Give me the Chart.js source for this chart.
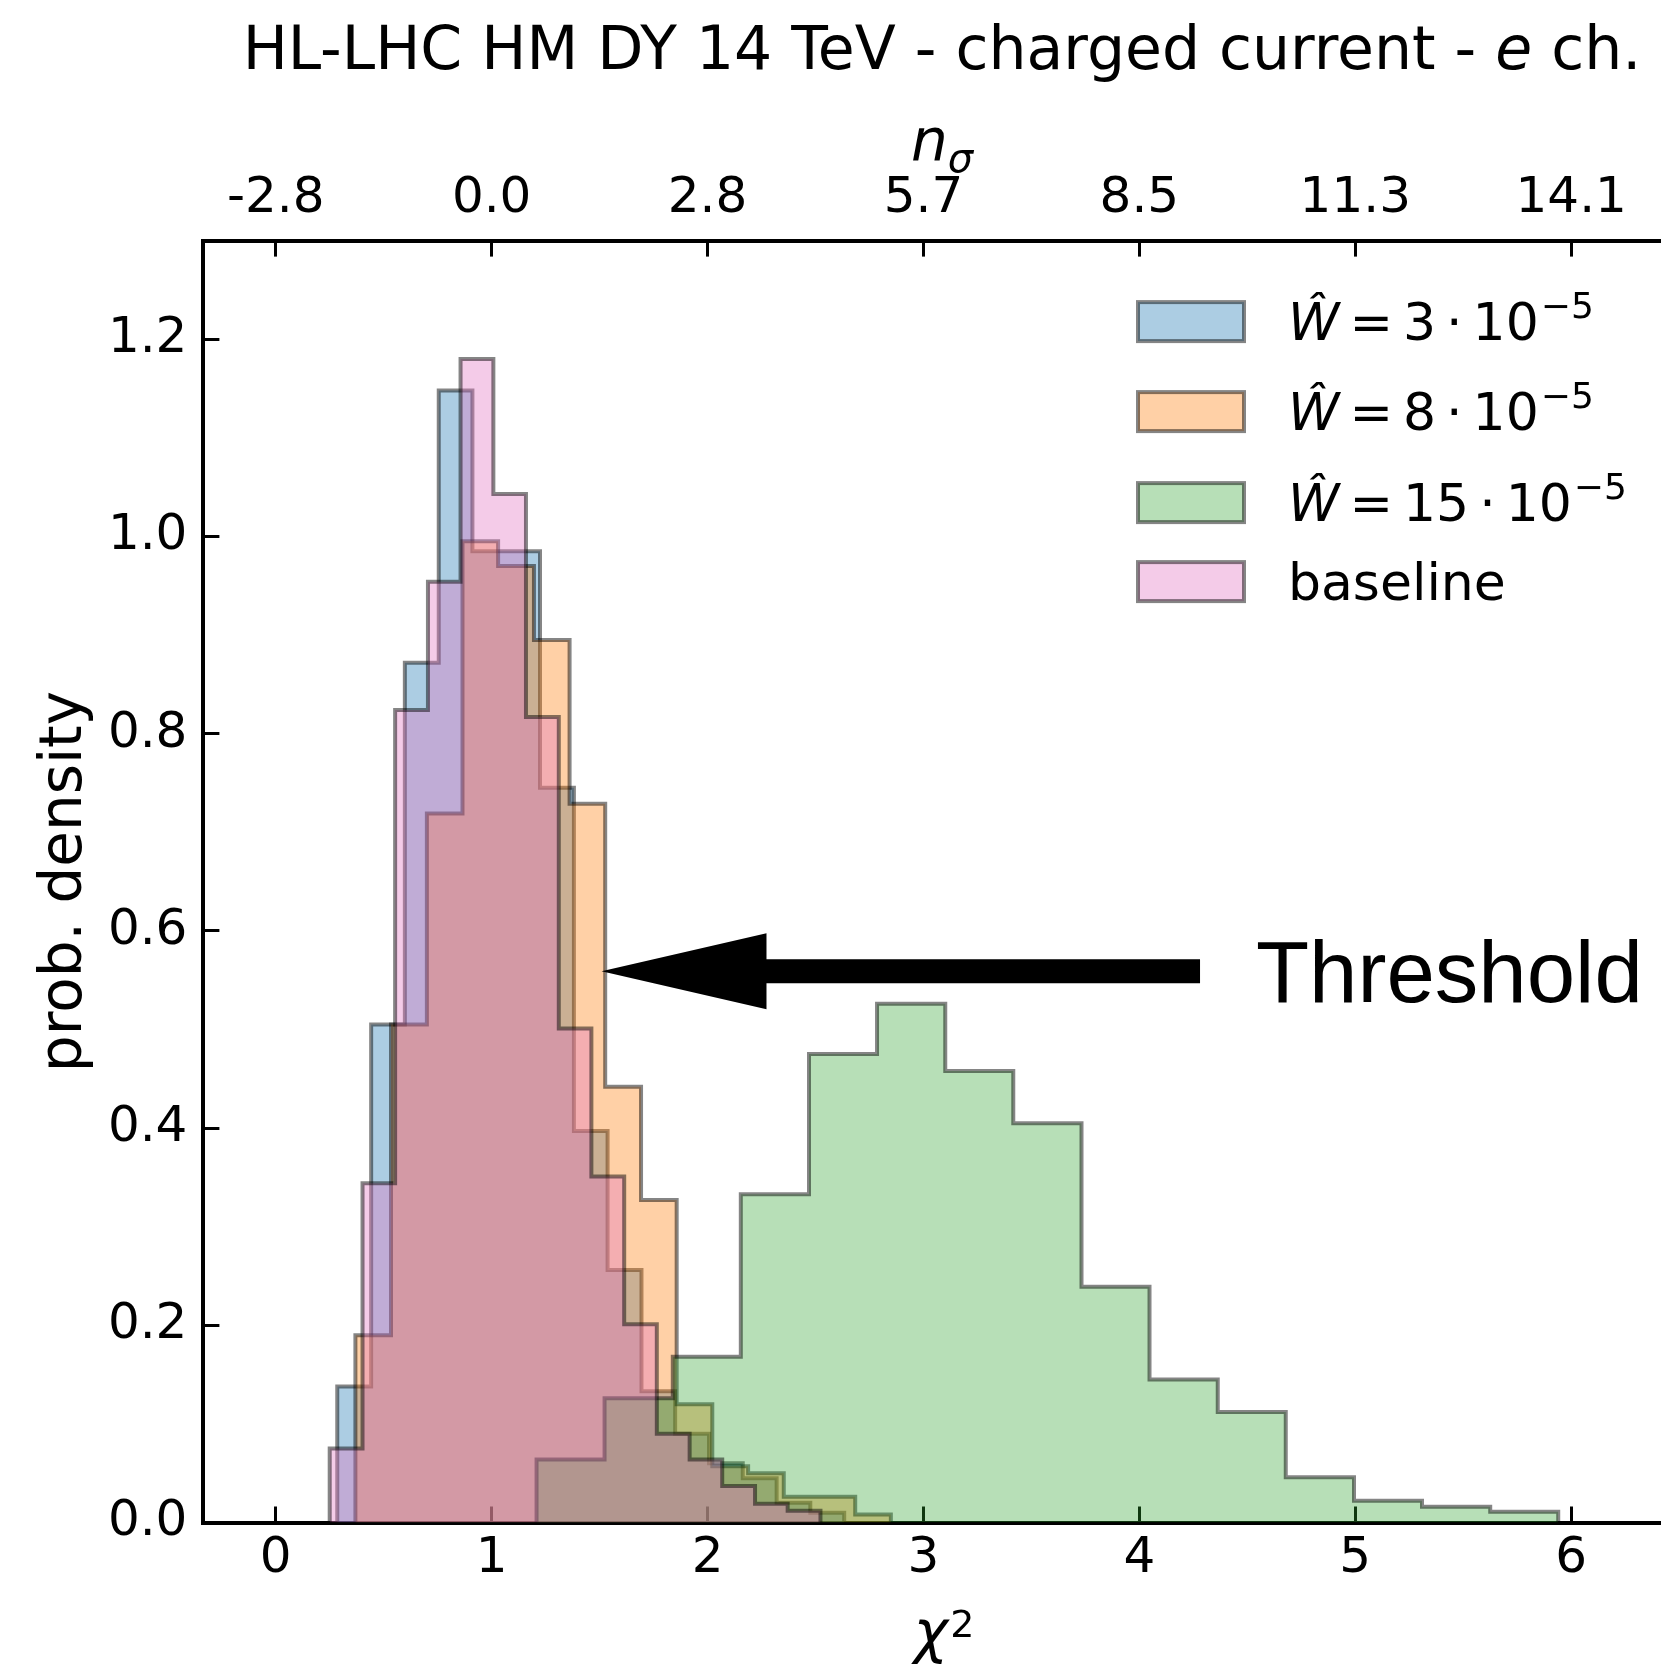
<!DOCTYPE html>
<html>
<head>
<meta charset="utf-8">
<title>chi2 distributions</title>
<script src="https://cdn.jsdelivr.net/npm/chart.js@4.4.1/dist/chart.umd.min.js"></script>
<style>
  body { margin: 0; background: #ffffff; }
  canvas { display: block; }
</style>
</head>
<body>
<canvas id="chi2Chart" width="1661" height="1669"></canvas>
<script>
// ## CHI2 HISTOGRAMS ##

// bin edges (chi2) and prob. densities
const edgesW3 = [0.285, 0.442, 0.598, 0.755, 0.911, 1.068, 1.224, 1.381, 1.537, 1.694, 1.85, 2.007, 2.163, 2.32, 2.476, 2.633];
const densW3 = [0.138, 0.505, 0.872, 1.148, 0.985, 0.985, 0.745, 0.397, 0.256, 0.133, 0.09, 0.06, 0.045, 0.02, 0.01];

const edgesW8 = [0.369, 0.534, 0.7, 0.865, 1.03, 1.196, 1.361, 1.526, 1.692, 1.857, 2.022, 2.188, 2.353, 2.518, 2.684, 2.849];
const densW8 = [0.19, 0.505, 0.719, 0.995, 0.97, 0.895, 0.729, 0.442, 0.327, 0.12, 0.057, 0.05, 0.026, 0.026, 0.008];

const edgesW15 = [1.208, 1.523, 1.839, 2.154, 2.47, 2.785, 3.101, 3.416, 3.732, 4.047, 4.363, 4.678, 4.994, 5.309, 5.625, 5.94];
const densW15 = [0.064, 0.126, 0.168, 0.333, 0.475, 0.526, 0.458, 0.405, 0.239, 0.145, 0.112, 0.046, 0.022, 0.016, 0.011];

const edgesBase = [0.25, 0.402, 0.553, 0.705, 0.856, 1.008, 1.159, 1.311, 1.462, 1.614, 1.765, 1.917, 2.068, 2.22, 2.371, 2.523];
const densBase = [0.075, 0.344, 0.824, 0.954, 1.18, 1.043, 0.817, 0.501, 0.351, 0.201, 0.09, 0.064, 0.037, 0.019, 0.012];

// W-hat coefficients (x 10^-5) for the legend, null = baseline
const wHatCoefs = ["3", "8", "15", null];

// tick labels
const chiTicks = [0, 1, 2, 3, 4, 5, 6];
const sigmaTicks = ["-2.8", "0.0", "2.8", "5.7", "8.5", "11.3", "14.1"];
const densTicks = [0, 0.2, 0.4, 0.6, 0.8, 1.0, 1.2];

// arrow annotation, in chi2 / density units
const threshold = { text: "Threshold", tip: 1.509, headBase: 2.273, tail: 4.281, textAt: 4.54, y: 0.559 };

const fills = ["rgba(31,119,180,0.37)", "rgba(255,127,14,0.37)", "rgba(44,160,44,0.34)", "rgba(227,119,194,0.38)"];
const edgeColor = "rgba(0,0,0,0.48)";

function histPoints(edges, dens) {
  const pts = [{ x: edges[0], y: 0 }];
  dens.forEach((d, i) => pts.push({ x: edges[i], y: d }));
  pts.push({ x: edges[edges.length - 1], y: 0 });
  return pts;
}

function histDataset(label, edges, dens, i) {
  return {
    label: label,
    data: histPoints(edges, dens),
    stepped: "before",
    fill: "origin",
    backgroundColor: fills[i],
    borderColor: edgeColor,
    borderWidth: 4,
    borderJoinStyle: "miter",
    pointRadius: 0,
    order: 4 - i,
  };
}

function drawSeriesLabel(ctx, x, base, coef) {
  if (coef === null) {
    ctx.font = "52px 'DejaVu Sans'";
    ctx.fillText("baseline", x, base);
    return;
  }
  ctx.font = "italic 52px 'DejaVu Sans'";
  ctx.fillText("Ŵ", x, base);
  x += ctx.measureText("Ŵ").width + 10;
  ctx.font = "52px 'DejaVu Sans'";
  ["=", coef, "·", "10"].forEach((piece) => {
    ctx.fillText(piece, x, base);
    x += ctx.measureText(piece).width + 10;
  });
  ctx.font = "36px 'DejaVu Sans'";
  ctx.fillText("−5", x - 8, base - 22);
}

const extras = {
  id: "extras",
  afterDatasetsDraw(chart) {
    const { ctx, scales } = chart;
    const xs = scales.x;
    const ys = scales.y;
    const tipX = xs.getPixelForValue(threshold.tip);
    const baseX = xs.getPixelForValue(threshold.headBase);
    const tailX = xs.getPixelForValue(threshold.tail);
    const yc = ys.getPixelForValue(threshold.y);
    ctx.save();
    ctx.fillStyle = "#000";
    ctx.beginPath();
    ctx.moveTo(tailX, yc - 12);
    ctx.lineTo(baseX, yc - 12);
    ctx.lineTo(baseX, yc - 38);
    ctx.lineTo(tipX, yc);
    ctx.lineTo(baseX, yc + 38);
    ctx.lineTo(baseX, yc + 12);
    ctx.lineTo(tailX, yc + 12);
    ctx.closePath();
    ctx.fill();
    ctx.font = "87px 'Liberation Sans'";
    ctx.textBaseline = "alphabetic";
    ctx.fillText(threshold.text, xs.getPixelForValue(threshold.textAt), yc + 31);

    // legend
    const area = chart.chartArea;
    const rowBase = [99.5, 189.5, 280.5, 359.5];
    chart.data.datasets.forEach((ds, i) => {
      const base = area.top + rowBase[i];
      ctx.fillStyle = ds.backgroundColor;
      ctx.fillRect(1138, base - 38, 106, 39);
      ctx.strokeStyle = edgeColor;
      ctx.lineWidth = 4;
      ctx.strokeRect(1138, base - 38, 106, 39);
      ctx.fillStyle = "#000";
      drawSeriesLabel(ctx, 1288, base, wHatCoefs[i]);
    });
    ctx.restore();
  },
  afterDraw(chart) {
    const { ctx } = chart;
    const cx = 942;
    ctx.save();
    ctx.fillStyle = "#000";
    ctx.textBaseline = "alphabetic";

    // title with italic e
    const parts = [
      ["HL-LHC HM DY 14 TeV - charged current - ", ""],
      ["e", "italic "],
      [" ch.", ""],
    ];
    let total = 0;
    parts.forEach(([t, st]) => {
      ctx.font = st + "60px 'DejaVu Sans'";
      total += ctx.measureText(t).width;
    });
    let x = cx - total / 2;
    parts.forEach(([t, st]) => {
      ctx.font = st + "60px 'DejaVu Sans'";
      ctx.fillText(t, x, 69);
      x += ctx.measureText(t).width;
    });

    // top axis title n_sigma
    ctx.font = "italic 58px 'DejaVu Sans'";
    const nW = ctx.measureText("n").width;
    ctx.font = "italic 40px 'DejaVu Sans'";
    const sW = ctx.measureText("σ").width;
    let tx = cx - (nW + sW) / 2;
    ctx.font = "italic 58px 'DejaVu Sans'";
    ctx.fillText("n", tx, 160);
    ctx.font = "italic 40px 'DejaVu Sans'";
    ctx.fillText("σ", tx + nW, 172);

    // bottom axis title chi^2
    ctx.font = "italic 58px 'DejaVu Sans'";
    const cW = ctx.measureText("χ").width;
    tx = cx - (cW + 22) / 2;
    ctx.fillText("χ", tx, 1652);
    ctx.font = "38px 'DejaVu Sans'";
    ctx.fillText("2", tx + cW + 2, 1637);

    // y axis title
    ctx.translate(66, (chart.chartArea.top + chart.chartArea.bottom) / 2);
    ctx.rotate(-Math.PI / 2);
    ctx.font = "58px 'DejaVu Sans'";
    ctx.textAlign = "center";
    ctx.textBaseline = "middle";
    ctx.fillText("prob. density", 0, 0);
    ctx.restore();
  },
};

const tickFont = { family: "DejaVu Sans", size: 50 };

function inwardGrid() {
  return { drawOnChartArea: false, drawTicks: true, tickLength: -16, tickWidth: 3, tickColor: "#000" };
}

const ctx = document.getElementById("chi2Chart").getContext("2d");

window.chi2Chart = new Chart(ctx, {
  type: "line",
  data: {
    datasets: [
      histDataset("W=3e-5", edgesW3, densW3, 0),
      histDataset("W=8e-5", edgesW8, densW8, 1),
      histDataset("W=15e-5", edgesW15, densW15, 2),
      histDataset("baseline", edgesBase, densBase, 3),
    ],
  },
  options: {
    responsive: false,
    animation: false,
    events: [],
    layout: { padding: 0 },
    plugins: {
      legend: { display: false },
      tooltip: { enabled: false },
    },
    scales: {
      x: {
        type: "linear",
        position: "bottom",
        min: -0.335,
        max: 6.416,
        afterBuildTicks: (axis) => {
          axis.ticks = chiTicks.map((v) => ({ value: v }));
        },
        afterFit: (s) => {
          s.height = 146.5;
        },
        ticks: { font: tickFont, color: "#000", padding: 23, autoSkip: false, maxRotation: 0, callback: (v) => String(v) },
        grid: inwardGrid(),
        border: { color: "#000", width: 4 },
      },
      x2: {
        type: "linear",
        position: "top",
        min: -0.335,
        max: 6.416,
        afterBuildTicks: (axis) => {
          axis.ticks = chiTicks.map((v) => ({ value: v }));
        },
        afterFit: (s) => {
          s.height = 240.6;
        },
        ticks: {
          font: tickFont,
          color: "#000",
          padding: 28,
          autoSkip: false,
          maxRotation: 0,
          callback: (v) => sigmaTicks[chiTicks.indexOf(v)],
        },
        grid: inwardGrid(),
        border: { color: "#000", width: 4 },
      },
      y: {
        min: 0,
        max: 1.3,
        afterBuildTicks: (axis) => {
          axis.ticks = densTicks.map((v) => ({ value: v }));
        },
        afterFit: (s) => {
          s.width = 203.4;
        },
        ticks: { font: tickFont, color: "#000", padding: 32, callback: (v) => v.toFixed(1) },
        grid: inwardGrid(),
        border: { color: "#000", width: 4 },
      },
    },
  },
  plugins: [extras],
});
</script>
</body>
</html>
